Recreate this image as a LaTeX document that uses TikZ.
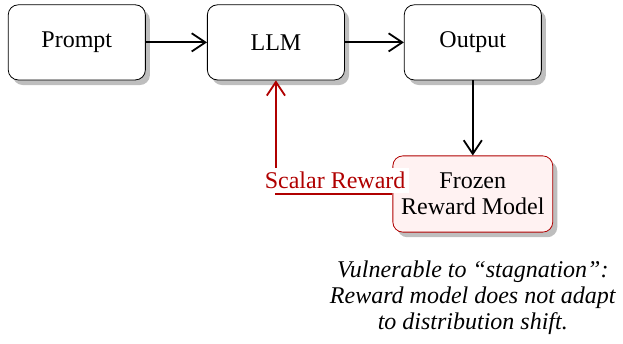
\documentclass[tikz,border=0pt]{standalone}
\usepackage{fontspec}
\setmainfont{Liberation Serif}
\usetikzlibrary{positioning, arrows.meta, backgrounds}

\definecolor{darkred}{RGB}{176,0,0}
\definecolor{shadegray}{RGB}{190,190,190}

\begin{document}
\begin{tikzpicture}[
    font=\fontsize{12}{13}\selectfont,
    box/.style={draw, rounded corners=5pt, fill=white, minimum width=2.41cm, minimum height=1.32cm},
    frozen/.style={box, draw=darkred, fill=red!5, minimum width=2.81cm, minimum height=1.34cm, align=center},
    shade/.style={fill=shadegray, rounded corners=5pt},
    arrow/.style={-{Straight Barb[length=2.4mm, width=3.2mm]}, line width=0.9pt},
    feedback/.style={arrow, darkred},
    note/.style={font=\fontsize{12}{13}\selectfont\itshape, align=center},
]
\useasboundingbox (0, 0) rectangle (10.95, 6.045);

% Shadows
\foreach \x/\y/\w/\h in {1.35/5.30/2.41/1.32, 4.85/5.30/2.41/1.32, 8.31/5.30/2.41/1.32, 8.31/2.635/2.81/1.34} {
    \fill[shade] (\x-\w/2+0.08, \y-\h/2-0.09) rectangle (\x+\w/2+0.08, \y+\h/2-0.09);
}

% Main pipeline
\node[box] (prompt) at (1.35, 5.30) {Prompt};
\node[box] (llm) at (4.85, 5.30) {LLM};
\node[box] (output) at (8.31, 5.30) {Output};

% Reward model
\node[frozen] (rm) at (8.31, 2.635) {Frozen\\Reward Model};

% Note
\node[note] (caveat) at (8.31, 0.81) {Vulnerable to ``stagnation'':\\Reward model does not adapt\\to distribution shift.};

% Forward edges
\draw[arrow] (prompt) -- (llm);
\draw[arrow] (llm) -- (output);
\draw[arrow] (output) -- (rm);

% Reward feedback
\draw[feedback] (rm.west) -| node[pos=0.5, anchor=south west, fill=white, inner sep=2pt, xshift=-8pt, text=darkred] {Scalar Reward} (llm.south);

\end{tikzpicture}
\end{document}
